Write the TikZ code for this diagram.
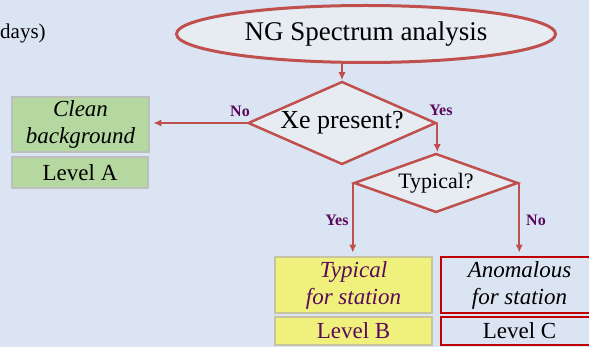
\documentclass[tikz,border=0pt]{standalone}
\usepackage{fontspec}
\setmainfont{Liberation Serif}
\usetikzlibrary{arrows.meta,positioning,shapes.geometric,calc}
\definecolor{mBg}{RGB}{219,228,243}
\definecolor{mRed}{RGB}{192,80,77}
\definecolor{mDark}{RGB}{192,0,0}
\definecolor{mPale}{RGB}{231,236,243}
\definecolor{mGreen}{RGB}{181,215,160}
\definecolor{mGrey}{RGB}{190,190,190}
\definecolor{mYellow}{RGB}{240,240,124}
\definecolor{mTan}{RGB}{200,195,160}
\definecolor{mPurple}{RGB}{90,10,90}

\begin{document}
\begin{tikzpicture}[x=1pt,y=-1pt,
  decide/.style={draw=mRed,line width=2.5pt,fill=mPale,diamond,inner sep=0pt},
  result/.style={line width=2.5pt,align=center,inner sep=0pt,font=\fontsize{23}{27}\selectfont},
  arr/.style={-{Latex[length=8pt,width=7pt]},draw=mRed,line width=2pt},
  answer/.style={text=mPurple,font=\fontsize{16}{18}\selectfont\bfseries}]
\fill[mBg] (0,0) rectangle (589,347);
\useasboundingbox (0,0) rectangle (589,347);
\clip (0,0) rectangle (589,347);
\node[anchor=west,inner sep=0pt,font=\fontsize{21}{24}\selectfont] (days) at (0,33) {days)};
\node[draw=mRed,line width=3pt,fill=mPale,ellipse,inner sep=0pt,minimum width=379pt,minimum height=57pt,font=\fontsize{27}{30}\selectfont] (ng) at (366,34) {NG Spectrum analysis};
\node[decide,aspect=2.27,minimum width=188pt,minimum height=83pt,font=\fontsize{26}{30}\selectfont] (xe) at (342,123) {Xe present?};
\node[decide,aspect=2.78,minimum width=164pt,minimum height=59pt,font=\fontsize{22}{26}\selectfont] (typ) at (436,183) {Typical?};
\node[result,draw=mGrey,fill=mGreen,minimum width=137pt,minimum height=55pt] (clean) at (80.5,124.5) {\itshape Clean\\\itshape background};
\node[result,draw=mGrey,fill=mGreen,minimum width=136pt,minimum height=31pt] (lvla) at (80,172.5) {Level A};
\node[result,draw=mTan,fill=mYellow,text=mPurple,minimum width=157pt,minimum height=56pt] (tbox) at (353.5,285) {\itshape Typical\\\itshape for station};
\node[result,draw=mTan,fill=mYellow,text=mPurple,minimum width=157pt,minimum height=28pt] (lvlb) at (353.5,331) {Level B};
\node[result,draw=mDark,fill=mBg,minimum width=157pt,minimum height=56pt] (abox) at (519.5,285) {\itshape Anomalous\\\itshape for station};
\node[result,draw=mDark,fill=mBg,minimum width=157pt,minimum height=28pt] (lvlc) at (519.5,331) {Level C};
% connectors
\draw[arr] (xe.north |- ng.south) -- (xe.north);
\draw[arr] (xe.west) -- ($(xe.west -| clean.east)+(3,0)$);
\draw[arr] (xe.east) -- (xe.east |- typ.north);
\draw[arr] (typ.west) -- ($(typ.west |- tbox.north)+(0,-3)$);
\draw[arr] (typ.east) -- ($(typ.east |- abox.north)+(0,-3)$);
% answers
\node[answer] (no1) at (240,111) {No};
\node[answer] (yes1) at (441,110) {Yes};
\node[answer] (yes2) at (337,220) {Yes};
\node[answer] (no2) at (536,220) {No};
\end{tikzpicture}
\end{document}
